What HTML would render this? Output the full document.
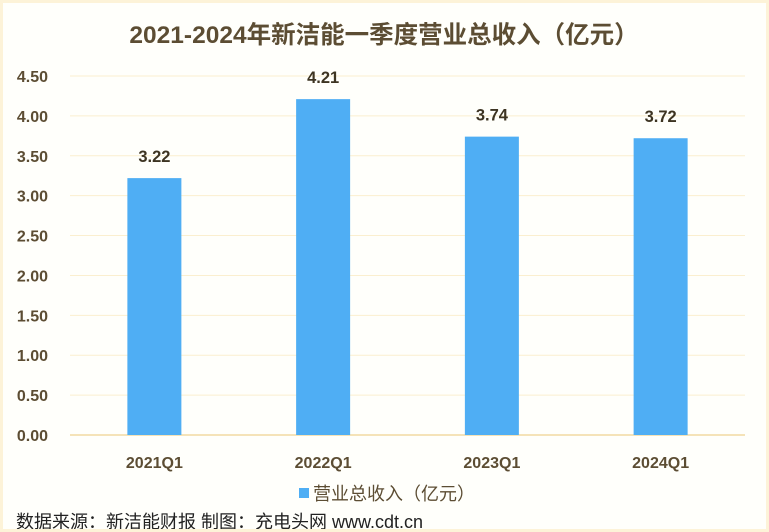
<!DOCTYPE html>
<html><head><meta charset="utf-8"><style>
body{margin:0;background:#fff;}
#c{position:relative;width:769px;height:532px;box-sizing:border-box;border:3px solid #fdf3d8;background:#fffffb;font-family:"Liberation Sans","Noto Sans CJK SC",sans-serif;overflow:hidden;}
</style></head><body>
<div id="c">
<svg id="s" width="769" height="532" style="position:absolute;left:-3px;top:-3px">
<text x="384" y="43" text-anchor="middle" font-size="24.5" font-weight="bold" fill="#5c4d33" font-family="Liberation Sans,Noto Sans CJK SC,sans-serif">2021-2024年新洁能一季度营业总收入（亿元）</text>
<g id="grid"></g><g id="bars"></g>
<rect x="299" y="488" width="10" height="10" fill="#4faef4"/>
<text x="313" y="500" font-size="18" fill="#5c4d33" font-family="Liberation Sans,Noto Sans CJK SC,sans-serif">营业总收入（亿元）</text>
<text x="16" y="528" font-size="18" fill="#222" font-family="Liberation Sans,Noto Sans CJK SC,sans-serif">数据来源：新洁能财报 制图：充电头网 www.cdt.cn</text>
</svg>
</div>
<script>
const categories=["2021Q1","2022Q1","2023Q1","2024Q1"];
const values=[3.22,4.21,3.74,3.72];
const ticks=[0,0.5,1,1.5,2,2.5,3,3.5,4,4.5];
const NS="http://www.w3.org/2000/svg";
const x0=70,x1=745,yb=435,yt=76,ymax=4.5;
const y=v=>yb-(v/ymax)*(yb-yt);
const bw=(x1-x0)/categories.length;
const xc=i=>x0+bw*(i+0.5);
function mk(t,a,p){const e=document.createElementNS(NS,t);for(const k in a)e.setAttribute(k,a[k]);p.appendChild(e);return e;}
const g=document.getElementById('grid'),b=document.getElementById('bars');
const ff="Liberation Sans,Noto Sans CJK SC,sans-serif";
ticks.forEach(t=>{
 const l=mk('line',{x1:x0,x2:x1,y1:y(t),y2:y(t),stroke:t===0?'#f5e3b8':'#fbefcf','stroke-width':t===0?2:1},g);
 
 
 const tx=mk('text',{x:48,y:y(t)+6,'text-anchor':'end','font-size':16,'font-weight':'bold',fill:'#5c4d33','font-family':ff},g);
 tx.textContent=t.toFixed(2);
 
 
});
categories.forEach((c,i)=>{
 const r=mk('rect',{x:xc(i)-27,y:y(values[i]),width:54,height:yb-y(values[i]),fill:'#4faef4'},b);
 
 
 const v=mk('text',{x:xc(i),y:y(values[i])-16,'text-anchor':'middle','font-size':16.5,'font-weight':'bold',fill:'#3d3422','font-family':ff},b);
 v.textContent=values[i].toFixed(2);
 
 
 const xl=mk('text',{x:xc(i),y:468,'text-anchor':'middle','font-size':16,'font-weight':'bold',fill:'#5c4d33','font-family':ff},b);
 xl.textContent=c;
 
 
});
</script>
</body></html>
